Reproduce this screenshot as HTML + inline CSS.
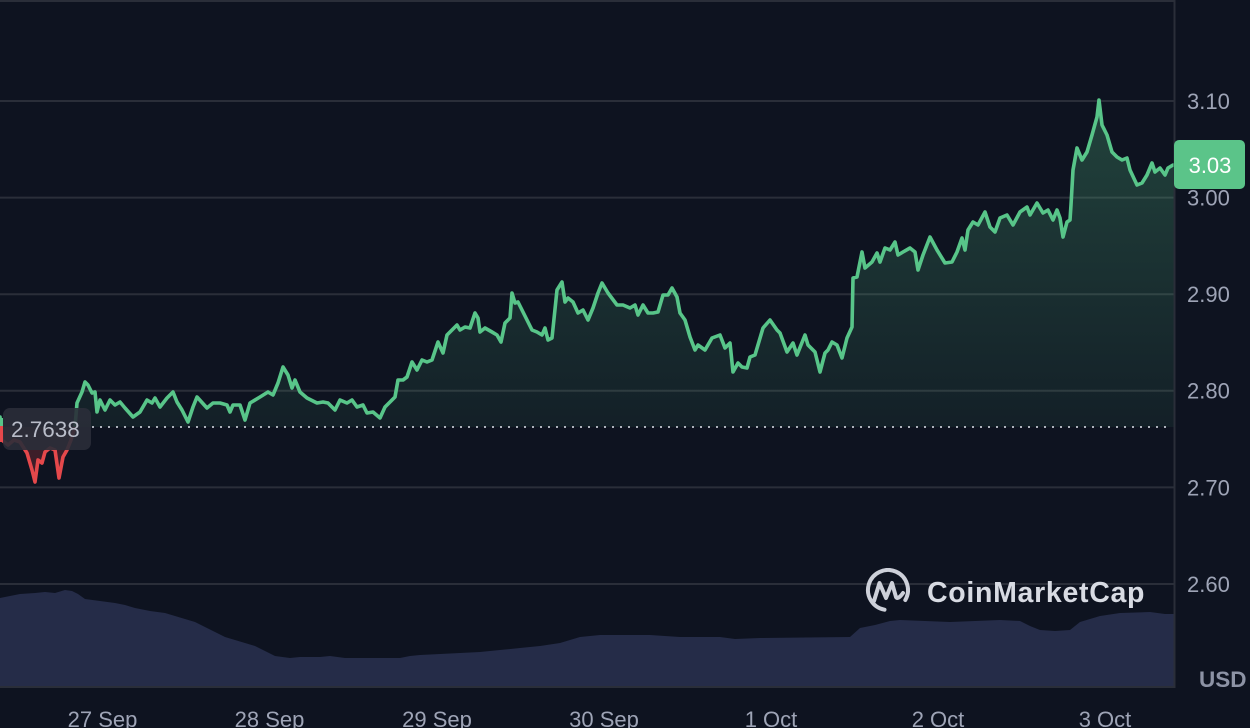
<!DOCTYPE html>
<html>
<head>
<meta charset="utf-8">
<style>
html,body{margin:0;padding:0;background:#0e1320;}
svg{display:block;}
text{font-family:"Liberation Sans",sans-serif;}
</style>
</head>
<body>
<svg width="1250" height="728" viewBox="0 0 1250 728" xmlns="http://www.w3.org/2000/svg">
<defs>
<linearGradient id="gfill" gradientUnits="userSpaceOnUse" x1="0" y1="100" x2="0" y2="427">
<stop offset="0" stop-color="#58c589" stop-opacity="0.27"/>
<stop offset="1" stop-color="#58c589" stop-opacity="0.07"/>
</linearGradient>
<clipPath id="above"><rect x="0" y="0" width="1174" height="427"/></clipPath>
<clipPath id="below"><rect x="0" y="427" width="1174" height="300"/></clipPath>
<clipPath id="plot"><rect x="0" y="0" width="1174" height="687"/></clipPath>
</defs>

<rect x="0" y="0" width="1250" height="728" fill="#0e1320"/>

<!-- volume -->
<polygon fill="#252c48" points="0,598 10,596 20,594 35,593 45,592 55,593 65,590 72,591 78,594 85,599 100,601 115,603 125,605 135,608 150,611 165,613 175,616 185,619 195,622 205,627 215,632 225,637 235,640 245,643 255,646 265,651 275,656 290,658 300,657 320,657 330,656 345,658 400,658 410,656 420,655 440,654 460,653 480,652 500,650 520,648 540,646 560,643 580,637 600,635 650,635 680,637 720,637 735,639 760,638 850,637 860,628 875,625 890,621 900,620 950,622 1000,620 1020,621 1030,626 1040,630 1055,631 1070,630 1080,622 1100,616 1120,613 1150,612 1165,614 1174,614 1174,687 0,687"/>

<!-- gridlines -->
<g stroke="#2a2e39" stroke-width="2">
<line x1="0" y1="1" x2="1174" y2="1"/>
<line x1="0" y1="101" x2="1174" y2="101"/>
<line x1="0" y1="197.6" x2="1174" y2="197.6"/>
<line x1="0" y1="294.2" x2="1174" y2="294.2"/>
<line x1="0" y1="390.8" x2="1174" y2="390.8"/>
<line x1="0" y1="487.4" x2="1174" y2="487.4"/>
<line x1="0" y1="584" x2="1174" y2="584"/>
</g>

<!-- area fills -->
<g clip-path="url(#plot)">
<path clip-path="url(#above)" fill="url(#gfill)" d="M0,427 L0,417 2,440 8,445 14,440 20,442 27,453 32,470 35,482 38,460 42,463 45,452 50,448 55,450 59,478 63,457 67,450 71,440 75,427 77,403 82,392 85,382 88,385 92,393 95,392 97,412 100,400 105,410 110,400 115,405 120,402 125,408 133,417 140,412 147,400 152,403 155,398 160,407 167,398 173,392 177,402 182,410 188,422 193,407 197,397 207,408 213,403 220,403 227,405 230,412 233,405 240,405 245,420 250,403 260,397 268,392 273,395 278,383 283,367 288,375 292,388 295,380 300,392 307,398 317,403 323,402 328,403 335,410 340,400 347,403 352,400 357,407 363,405 367,413 373,412 380,418 385,407 390,402 395,397 398,380 403,380 407,377 412,362 417,370 422,360 427,362 432,360 438,342 443,353 447,335 457,325 460,330 465,327 470,328 475,313 478,318 480,332 485,328 492,332 497,335 501,342 505,323 510,318 512,293 515,303 518,302 523,312 527,320 532,330 537,332 542,335 545,328 548,340 552,338 557,290 562,282 565,302 568,298 573,302 578,313 583,310 588,320 593,308 598,293 602,283 608,293 617,305 623,305 630,308 635,305 638,315 643,305 648,313 653,313 658,312 663,295 668,295 672,288 677,297 680,313 685,320 690,337 695,350 698,345 705,350 712,338 720,335 725,348 730,343 733,372 738,363 742,367 747,368 750,357 755,355 763,328 770,320 777,330 780,333 787,352 793,343 797,355 805,335 808,345 815,352 820,372 825,353 828,350 832,342 837,345 842,358 847,338 852,327 853,278 857,277 862,252 865,268 872,262 877,253 880,262 885,248 890,250 895,242 898,255 903,252 910,248 915,252 918,270 923,255 930,237 937,250 945,263 952,262 957,252 962,238 965,250 968,230 973,222 978,225 985,212 990,227 995,232 1000,218 1007,215 1013,225 1020,212 1027,207 1030,215 1037,203 1043,213 1048,210 1053,220 1057,210 1060,218 1063,237 1067,222 1070,220 1071,205 1073,170 1077,148 1082,160 1087,152 1092,135 1097,117 1099,100 1102,125 1107,135 1112,152 1117,157 1122,160 1127,158 1130,170 1137,185 1142,183 1147,175 1152,163 1155,172 1160,168 1165,175 1168,168 1173,165 1174,165 1174,427 Z"/>
<path clip-path="url(#below)" fill="#e84a4a" fill-opacity="0.22" d="M0,427 L0,417 2,440 8,445 14,440 20,442 27,453 32,470 35,482 38,460 42,463 45,452 50,448 55,450 59,478 63,457 67,450 71,440 75,427 Z"/>
</g>

<!-- dotted baseline -->
<line x1="92" y1="427" x2="1172" y2="427" stroke="#aeb2bc" stroke-width="2" stroke-dasharray="2 6"/>

<!-- price line -->
<g clip-path="url(#plot)" fill="none" stroke-width="3.6" stroke-linejoin="round" stroke-linecap="round">
<polyline clip-path="url(#above)" stroke="#58c589" points="0,417 2,440 8,445 14,440 20,442 27,453 32,470 35,482 38,460 42,463 45,452 50,448 55,450 59,478 63,457 67,450 71,440 75,427 77,403 82,392 85,382 88,385 92,393 95,392 97,412 100,400 105,410 110,400 115,405 120,402 125,408 133,417 140,412 147,400 152,403 155,398 160,407 167,398 173,392 177,402 182,410 188,422 193,407 197,397 207,408 213,403 220,403 227,405 230,412 233,405 240,405 245,420 250,403 260,397 268,392 273,395 278,383 283,367 288,375 292,388 295,380 300,392 307,398 317,403 323,402 328,403 335,410 340,400 347,403 352,400 357,407 363,405 367,413 373,412 380,418 385,407 390,402 395,397 398,380 403,380 407,377 412,362 417,370 422,360 427,362 432,360 438,342 443,353 447,335 457,325 460,330 465,327 470,328 475,313 478,318 480,332 485,328 492,332 497,335 501,342 505,323 510,318 512,293 515,303 518,302 523,312 527,320 532,330 537,332 542,335 545,328 548,340 552,338 557,290 562,282 565,302 568,298 573,302 578,313 583,310 588,320 593,308 598,293 602,283 608,293 617,305 623,305 630,308 635,305 638,315 643,305 648,313 653,313 658,312 663,295 668,295 672,288 677,297 680,313 685,320 690,337 695,350 698,345 705,350 712,338 720,335 725,348 730,343 733,372 738,363 742,367 747,368 750,357 755,355 763,328 770,320 777,330 780,333 787,352 793,343 797,355 805,335 808,345 815,352 820,372 825,353 828,350 832,342 837,345 842,358 847,338 852,327 853,278 857,277 862,252 865,268 872,262 877,253 880,262 885,248 890,250 895,242 898,255 903,252 910,248 915,252 918,270 923,255 930,237 937,250 945,263 952,262 957,252 962,238 965,250 968,230 973,222 978,225 985,212 990,227 995,232 1000,218 1007,215 1013,225 1020,212 1027,207 1030,215 1037,203 1043,213 1048,210 1053,220 1057,210 1060,218 1063,237 1067,222 1070,220 1071,205 1073,170 1077,148 1082,160 1087,152 1092,135 1097,117 1099,100 1102,125 1107,135 1112,152 1117,157 1122,160 1127,158 1130,170 1137,185 1142,183 1147,175 1152,163 1155,172 1160,168 1165,175 1168,168 1173,165 1175,165"/>
<polyline clip-path="url(#below)" stroke="#e5484b" points="0,417 2,440 8,445 14,440 20,442 27,453 32,470 35,482 38,460 42,463 45,452 50,448 55,450 59,478 63,457 67,450 71,440 75,427 77,403"/>
</g>

<!-- borders -->
<line x1="1174.5" y1="0" x2="1174.5" y2="688" stroke="#2a2e39" stroke-width="2"/>
<line x1="0" y1="687" x2="1175" y2="687" stroke="#2a2e39" stroke-width="2"/>

<!-- watermark -->
<g fill="none" stroke="#d8dbe3" stroke-width="4" stroke-linecap="round" stroke-linejoin="round" opacity="0.95">
<path d="M905.3,600 A20,20 0 1 0 884.5,609.7"/>
<path d="M874,601 L879.5,583 L886,598 L892,583 L896,597 Q898,600 903,593"/>
</g>
<text x="927" y="602" font-size="28.5" font-weight="bold" fill="#d8dbe3" letter-spacing="0.7">CoinMarketCap</text>

<!-- y-axis labels -->
<g font-size="22" fill="#9ea4b6">
<text x="1187" y="109">3.10</text>
<text x="1187" y="205.6">3.00</text>
<text x="1187" y="302">2.90</text>
<text x="1187" y="398.6">2.80</text>
<text x="1187" y="495.4">2.70</text>
<text x="1187" y="592">2.60</text>
</g>
<text x="1199" y="687" font-size="22.5" font-weight="bold" fill="#8d93a5">USD</text>

<!-- current price tag -->
<rect x="1174" y="140" width="71" height="49" rx="5" fill="#5bc489"/>
<text x="1210" y="173" font-size="22" fill="#ffffff" text-anchor="middle">3.03</text>

<!-- start price tag -->
<rect x="3" y="408" width="88" height="42" rx="7" fill="#2a2e39" fill-opacity="0.9"/>
<text x="11" y="437" font-size="22.5" fill="#b9bdc9">2.7638</text>
<rect x="0" y="418" width="3" height="8" fill="#58c589"/>
<rect x="0" y="426" width="3" height="16" fill="#e5484b"/>

<!-- x-axis labels -->
<g font-size="22" fill="#9ea4b6" text-anchor="middle">
<text x="102.5" y="727">27 Sep</text>
<text x="269.5" y="727">28 Sep</text>
<text x="437" y="727">29 Sep</text>
<text x="604" y="727">30 Sep</text>
<text x="771" y="727">1 Oct</text>
<text x="938" y="727">2 Oct</text>
<text x="1105" y="727">3 Oct</text>
</g>
</svg>
</body>
</html>
